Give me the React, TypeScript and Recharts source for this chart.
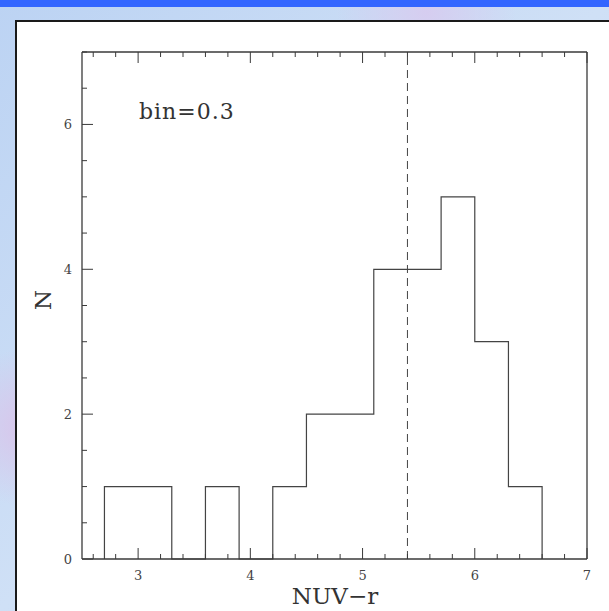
import { ComposedChart, Line, XAxis, YAxis, ReferenceLine } from 'recharts'

// histogram of NUV-r, bin = 0.3
const binStarts = [2.7, 3.0, 3.3, 3.6, 3.9, 4.2, 4.5, 4.8, 5.1, 5.4, 5.7, 6.0, 6.3]
const counts = [1, 1, 0, 1, 0, 1, 2, 2, 4, 4, 5, 3, 1]
const BIN = 0.3
const binEnd = 6.6

const xTicks = [2.6, 2.8, 3, 3.2, 3.4, 3.6, 3.8, 4, 4.2, 4.4, 4.6, 4.8, 5, 5.2, 5.4, 5.6, 5.8, 6, 6.2, 6.4, 6.6, 6.8, 7]
const xMajor = [3, 4, 5, 6, 7]
const yTicks = [0, 0.5, 1, 1.5, 2, 2.5, 3, 3.5, 4, 4.5, 5, 5.5, 6, 6.5, 7]
const yMajor = [0, 2, 4, 6]
const dividerX = 5.4

const steps = [
  { x: binStarts[0], n: 0 },
  ...binStarts.map((b, i) => ({ x: b, n: counts[i] })),
  { x: binEnd, n: 0 },
]

const INK = '#3a3a3a'
const FONT = 'DejaVu Serif, Liberation Serif, serif'
const MAJOR = 11
const MINOR = 5

function BottomTick({ x, y, payload }: any) {
  const major = xMajor.includes(payload.value)
  return (
    <g>
      <line x1={x} y1={y} x2={x} y2={y - (major ? MAJOR : MINOR)} stroke={INK} />
      {major && (
        <text x={x} y={y + 21} textAnchor="middle" fontSize={13} fill="#444" fontFamily={FONT}>
          {payload.value}
        </text>
      )}
    </g>
  )
}

function TopTick({ x, y, payload }: any) {
  const major = xMajor.includes(payload.value)
  return <line x1={x} y1={y} x2={x} y2={y + (major ? MAJOR : MINOR)} stroke={INK} />
}

function LeftTick({ x, y, payload }: any) {
  const major = yMajor.includes(payload.value)
  return (
    <g>
      <line x1={x} y1={y} x2={x + (major ? MAJOR : MINOR)} y2={y} stroke={INK} />
      {major && (
        <text x={x - 10} y={y + 5} textAnchor="end" fontSize={13} fill="#444" fontFamily={FONT}>
          {payload.value}
        </text>
      )}
    </g>
  )
}

function RightTick({ x, y, payload }: any) {
  const major = yMajor.includes(payload.value)
  return <line x1={x} y1={y} x2={x - (major ? MAJOR : MINOR)} y2={y} stroke={INK} />
}

export default function App() {
  return (
    <div style={{ position: 'absolute', left: 0, top: 0, width: 609, height: 611, overflow: 'hidden',
      background: 'radial-gradient(circle at 20% 30%, #e3c9ea 0, transparent 60px), radial-gradient(circle at 5% 70%, #d9c4ea 0, transparent 80px), radial-gradient(circle at 70% 2%, #d6cdf0 0, transparent 90px), linear-gradient(135deg, #bcd3f3, #cfe0f6 50%, #bdd2f2)' }}>
      <div style={{ position: 'absolute', left: 0, top: 0, width: 609, height: 7, background: '#3366ff' }} />
      <div style={{ position: 'absolute', left: 15, top: 20, width: 600, height: 600, background: '#fff',
        borderLeft: '2px solid #1a1a1a', borderTop: '2px solid #1a1a1a' }} />
      <div style={{ position: 'absolute', left: 0, top: 0 }}>
        <ComposedChart width={609} height={611} data={steps}
          margin={{ top: 50, right: 20, bottom: 22, left: 42 }}>
          <XAxis dataKey="x" type="number" domain={[2.5, 7]} ticks={xTicks} interval={0}
            allowDataOverflow height={30} tickSize={0} tickMargin={0} tickLine={false}
            axisLine={{ stroke: INK, strokeWidth: 1.3 }} tick={<BottomTick />} />
          <XAxis xAxisId="top" orientation="top" dataKey="x" type="number" domain={[2.5, 7]}
            ticks={xTicks} interval={0} height={2} tickSize={0} tickMargin={0} tickLine={false}
            axisLine={{ stroke: INK, strokeWidth: 1.3 }} tick={<TopTick />} />
          <YAxis type="number" domain={[0, 7]} ticks={yTicks} interval={0} width={40}
            tickSize={0} tickMargin={0} tickLine={false}
            axisLine={{ stroke: INK, strokeWidth: 1.3 }} tick={<LeftTick />} />
          <YAxis yAxisId="right" orientation="right" type="number" domain={[0, 7]} ticks={yTicks}
            interval={0} width={2} tickSize={0} tickMargin={0} tickLine={false}
            axisLine={{ stroke: INK, strokeWidth: 1.3 }} tick={<RightTick />} />
          <ReferenceLine x={dividerX} stroke="#444" strokeDasharray="8 5" />
          <Line type="stepAfter" dataKey="n" stroke="#444" strokeWidth={1.2} dot={false}
            isAnimationActive={false} />
        </ComposedChart>
      </div>
      <div style={{ position: 'absolute', left: 139, top: 99, fontFamily: FONT, fontSize: 22,
        color: '#333', letterSpacing: 1, whiteSpace: 'nowrap' }}>bin=0.3</div>
      <div style={{ position: 'absolute', left: 0, width: 670, top: 583, textAlign: 'center',
        fontFamily: FONT, fontSize: 23, color: '#333', whiteSpace: 'nowrap' }}>NUV−r</div>
      <div style={{ position: 'absolute', left: 33, top: 300, fontFamily: FONT, fontSize: 23,
        color: '#333', transform: 'translate(0, -50%) rotate(-90deg)' }}>N</div>
    </div>
  )
}
